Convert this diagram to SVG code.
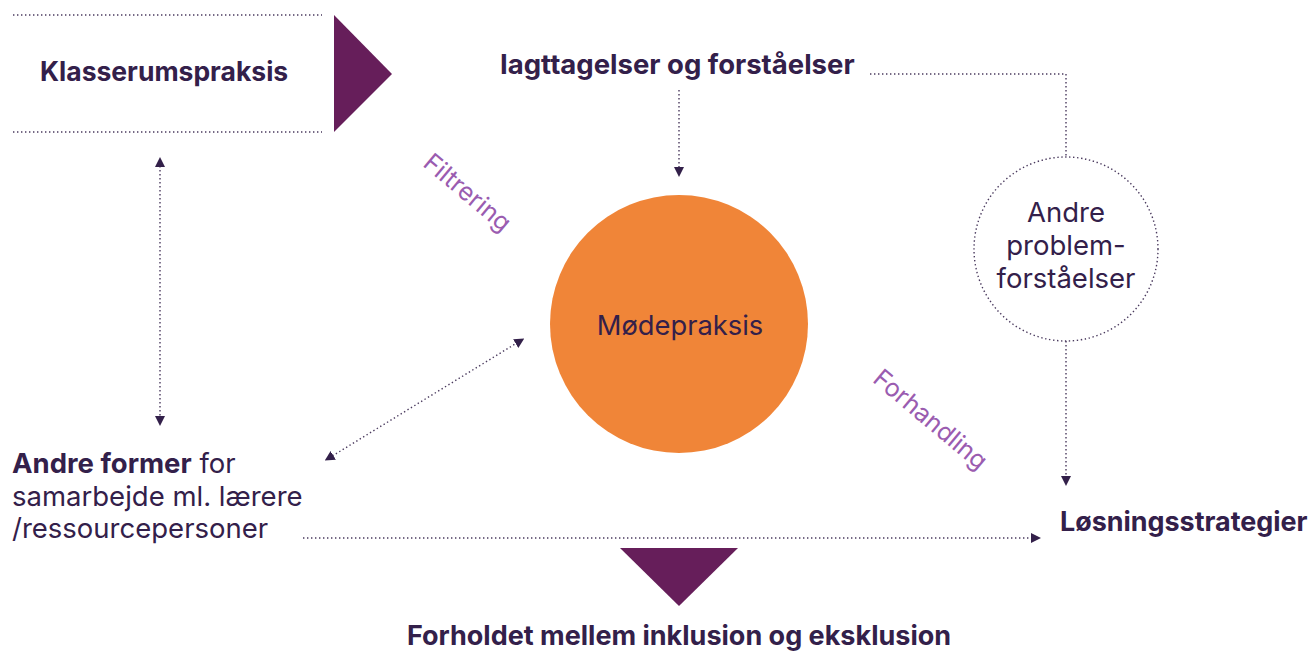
<svg xmlns="http://www.w3.org/2000/svg" width="1310" height="651" viewBox="0 0 1310 651">
<style>
.t{font-family:Inter,"Noto Sans","DejaVu Sans",sans-serif;fill:#33204a}
.b{font-weight:700}
.lbl{font-family:Inter,"Noto Sans",sans-serif;fill:#9a5cb0;font-size:25px}
.dot{fill:none;stroke:#4a3a5e;stroke-width:1.4;stroke-dasharray:1.4 2.6}
.tri{fill:#661e5a}
</style>
<defs>
<marker id="ah" viewBox="0 0 10 10" refX="5" refY="5" markerWidth="10" markerHeight="10" markerUnits="userSpaceOnUse" orient="auto-start-reverse">
<path d="M0,0 L10,5 L0,10 Z" fill="#33204a"/>
</marker>
</defs>
<g id="connectors">
<path class="dot" d="M13,15 H322"/>
<path class="dot" d="M13,132 H322"/>
<path class="dot" d="M160,162 V421" marker-start="url(#ah)" marker-end="url(#ah)"/>
<path class="dot" d="M679,90 V172" marker-end="url(#ah)"/>
<path class="dot" d="M870,74 H1066 V157"/>
<path class="dot" d="M1066,341 V481" marker-end="url(#ah)"/>
<path class="dot" d="M329,458 L520,341" marker-start="url(#ah)" marker-end="url(#ah)"/>
<path class="dot" d="M303,538 H1036" marker-end="url(#ah)"/>
</g>
<g id="klasserumspraksis">
<polygon class="tri" points="334,15 392,74 334,132"/>
<text class="t b" x="40" y="81" font-size="26.5">Klasserumspraksis</text>
</g>
<g id="iagttagelser">
<text class="t b" x="500" y="74" font-size="27.5">Iagttagelser og forståelser</text>
</g>
<g id="modepraksis">
<circle cx="679" cy="324" r="129" fill="#f08538"/>
<text class="t" x="680" y="335" font-size="27.3" text-anchor="middle">Mødepraksis</text>
</g>
<g id="andre-problem">
<circle cx="1066" cy="249" r="92" fill="none" stroke="#4a3a5e" stroke-width="1.4" stroke-dasharray="1.4 2.6"/>
<text class="t" x="1066" y="222" font-size="27.5" text-anchor="middle">Andre</text>
<text class="t" x="1066" y="255" font-size="27.5" text-anchor="middle">problem-</text>
<text class="t" x="1066" y="288" font-size="27.5" text-anchor="middle">forståelser</text>
</g>
<g id="andre-former">
<text class="t" x="12" y="473" font-size="27.5"><tspan class="b">Andre former</tspan> for</text>
<text class="t" x="12" y="506" font-size="27.5">samarbejde ml. lærere</text>
<text class="t" x="12" y="538" font-size="27.5">/ressourcepersoner</text>
</g>
<g id="losningsstrategier">
<text class="t b" x="1060" y="531" font-size="26.9">Løsningsstrategier</text>
</g>
<g id="forholdet">
<polygon class="tri" points="620,548 738,548 679,606"/>
<text class="t b" x="679" y="645" font-size="27" text-anchor="middle">Forholdet mellem inklusion og eksklusion</text>
</g>
<g id="labels">
<text class="lbl" x="0" y="0" text-anchor="middle" transform="translate(462,199) rotate(40)">Filtrering</text>
<text class="lbl" x="0" y="0" text-anchor="middle" transform="translate(925,426) rotate(40)">Forhandling</text>
</g>
</svg>
